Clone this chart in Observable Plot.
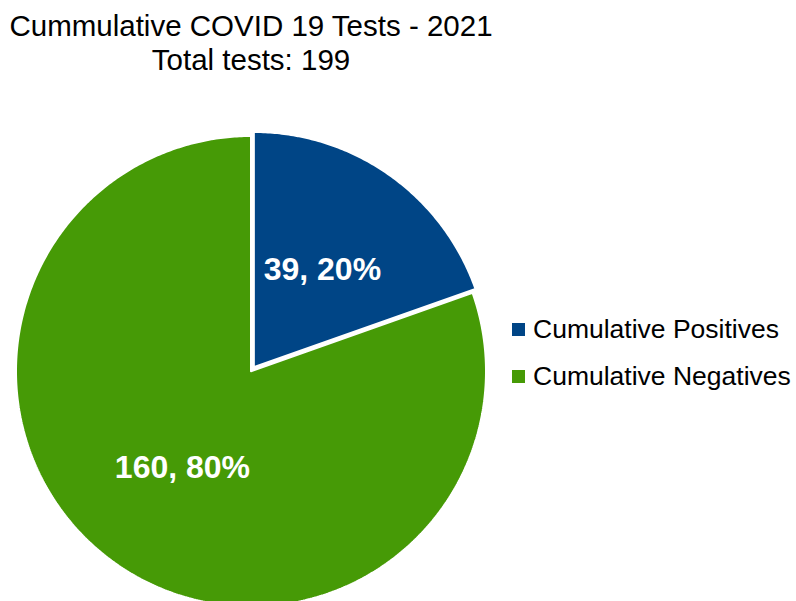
<!DOCTYPE html>
<html>
<head>
<meta charset="utf-8">
<script src="https://cdn.jsdelivr.net/npm/d3@7"></script>
<script src="https://cdn.jsdelivr.net/npm/@observablehq/plot@0.6"></script>
<style>
  html, body { margin: 0; padding: 0; width: 796px; height: 601px; overflow: hidden; background: #fff; }
  #wrap { position: relative; width: 796px; height: 601px; overflow: hidden; font-family: "Liberation Sans", Arial, sans-serif; }
  #title { position: absolute; left: 0; top: 9px; width: 502px; text-align: center; font-size: 29.5px; line-height: 34px; color: #000; }
  #chart { position: absolute; left: 0; top: 0; }
  #legend { position: absolute; left: 512px; top: 306px; font-size: 26.5px; color: #000; }
  .item { display: flex; align-items: center; height: 47px; }
  .sw { width: 13px; height: 13px; margin-right: 8px; }
</style>
</head>
<body>
<div id="wrap">
  <div id="chart"></div>
  <div id="title"></div>
  <div id="legend"></div>
</div>
<script>
// ---- data ----
const categories = ["Cumulative Positives", "Cumulative Negatives"];
const values = [39, 160];
const colors = ["#004586", "#469a06"];
const titleLines = ["Cummulative COVID 19 Tests - 2021", "Total tests: 199"];

// ---- build slices ----
const total = d3.sum(values);
const pie = d3.pie().sort(null).value(d => d.value);
const table = categories.map((name, i) => ({name, value: values[i]}));
const arcs = pie(table);
const explode = [0.021, 0]; // radial offset (fraction of radius)

const outline = [];
const labels = [];
arcs.forEach((a, i) => {
  const mid = (a.startAngle + a.endAngle) / 2;
  const ox = Math.sin(mid) * explode[i], oy = Math.cos(mid) * explode[i];
  outline.push({name: a.data.name, x: ox, y: oy});
  const n = Math.max(8, Math.ceil((a.endAngle - a.startAngle) / 0.01));
  for (let k = 0; k <= n; k++) {
    const t = a.startAngle + (a.endAngle - a.startAngle) * k / n;
    outline.push({name: a.data.name, x: ox + Math.sin(t), y: oy + Math.cos(t)});
  }
  outline.push({name: a.data.name, x: ox, y: oy});
  labels.push({
    name: a.data.name,
    x: ox + Math.sin(mid) * 0.505,
    y: oy + Math.cos(mid) * 0.505,
    text: `${a.data.value}, ${Math.round(a.data.value / total * 100)}%`
  });
});

const chart = Plot.plot({
  width: 796,
  height: 606,
  marginLeft: 15.5,
  marginRight: 310.5,
  marginTop: 135.5,
  marginBottom: 0,
  x: {domain: [-1, 1], axis: null},
  y: {domain: [-1, 1], axis: null},
  color: {domain: categories, range: colors},
  style: {fontFamily: "'Liberation Sans', Arial, sans-serif", overflow: "hidden", background: "transparent"},
  marks: [
    Plot.line(outline, {x: "x", y: "y", z: "name", fill: "name", stroke: "white", strokeWidth: 2, strokeLinejoin: "miter", curve: "linear"}),
    Plot.text(labels, {x: "x", y: "y", text: "text", fill: "white", fontSize: 32, fontWeight: "bold"})
  ]
});
document.getElementById("chart").appendChild(chart);

// title from data
document.getElementById("title").innerHTML = titleLines.join("<br>");

// legend
const leg = document.getElementById("legend");
categories.forEach((c, i) => {
  const it = document.createElement("div");
  it.className = "item";
  const sw = document.createElement("span");
  sw.className = "sw";
  sw.style.background = colors[i];
  const tx = document.createElement("span");
  tx.textContent = c;
  it.appendChild(sw);
  it.appendChild(tx);
  leg.appendChild(it);
});
</script>
</body>
</html>
